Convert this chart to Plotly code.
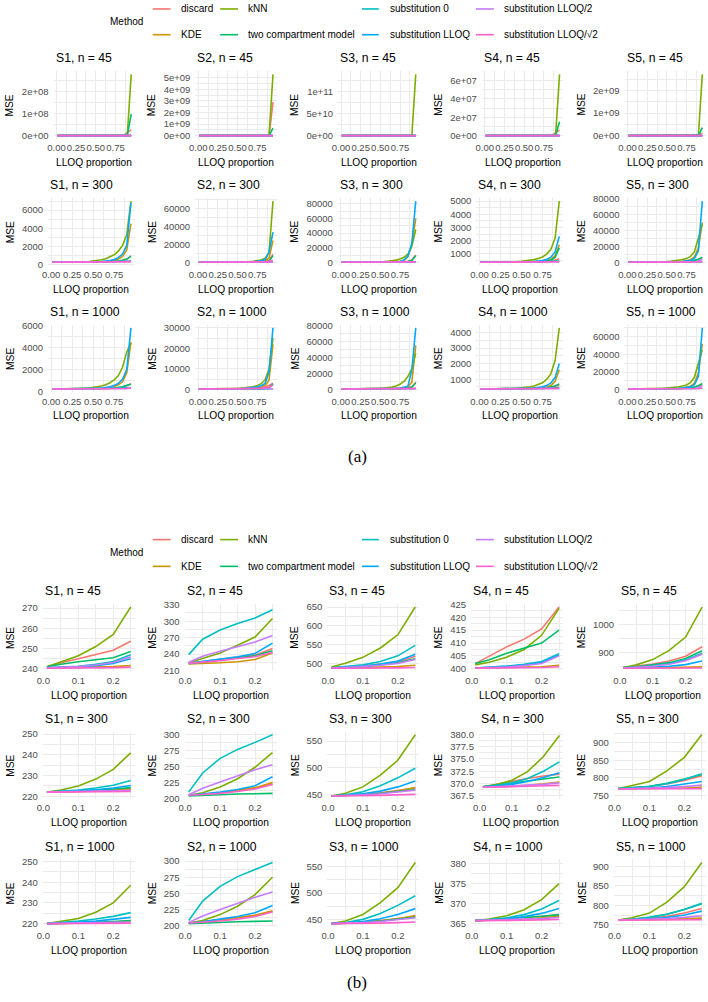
import plotly.graph_objects as go

W, H = 708, 1002
FONT = "Liberation Sans, Arial, Helvetica, sans-serif"

METHODS = ["discard", "KDE", "kNN", "two compartment model", "substitution 0",
           "substitution LLOQ", "substitution LLOQ/2", "substitution LLOQ/√2"]
COLORS = ["#F8766D", "#CD9600", "#7CAE00", "#00BE67", "#00BFC4",
          "#00A9FF", "#C77CFF", "#FF61CC"]
SCENARIOS = ["S1", "S2", "S3", "S4", "S5"]
SIZES = [45, 300, 1000]

# LLOQ proportions: panel (b) uses the first six, panel (a) all of them
X_B = [0.01, 0.05, 0.10, 0.15, 0.20, 0.25]
X_A_TAIL = [0.30, 0.35, 0.40, 0.45, 0.50, 0.55, 0.60, 0.65, 0.70, 0.75, 0.80, 0.85, 0.90, 0.95]
X_A = X_B + X_A_TAIL

X_TICKS_A = [0, 0.25, 0.5, 0.75]
X_TICKTEXT_A = ["0.00", "0.25", "0.50", "0.75"]
X_TICKS_B = [0, 0.1, 0.2]
X_TICKTEXT_B = ["0.0", "0.1", "0.2"]

# ---- MSE, LLOQ proportion 0.01 .. 0.25 (order of METHODS) ----
B_S1_N45 = [[241, 243, 245, 247, 249.2, 253.6], [240.4, 240.5, 240.6, 240.8, 241.1, 241.6],
            [241, 243.5, 246.5, 251, 257, 270.5], [241, 242.3, 243.5, 244.5, 245.5, 248.5],
            [240.5, 240.8, 241.3, 242.2, 243.6, 247], [240.5, 240.6, 241, 241.6, 242.6, 245],
            [240.5, 240.7, 241.1, 241.9, 243.1, 246], [240.3, 240.3, 240.4, 240.5, 240.6, 240.8]]
B_S2_N45 = [[223, 226, 230, 234, 238, 250], [222, 222.5, 224, 226, 230, 242],
            [224, 232, 242, 256, 271, 305], [223, 225, 229, 233, 237, 246],
            [239, 267, 284, 296, 306, 321], [223, 227, 231, 235, 241, 260],
            [225, 236, 245, 254, 262, 274], [223, 225, 228, 232, 235, 243]]
B_S3_N45 = [[488, 490, 493, 498, 504, 519], [487, 487.5, 488.5, 490, 491.5, 495],
            [490, 500, 516, 541, 576, 650], [488, 489, 492, 496, 502, 512],
            [488, 491, 496, 505, 520, 548], [487, 489, 492, 498, 506, 524],
            [487, 489, 491, 495, 500, 510], [487, 487, 487, 487.5, 488, 489]]
B_S4_N45 = [[402, 405, 408.5, 411.5, 415.5, 424], [400.3, 400.4, 400.5, 400.6, 400.8, 401.3],
            [401.5, 402.5, 404.5, 407.5, 413, 423.5], [402, 403.5, 406, 408, 410, 415],
            [400.3, 400.5, 401, 401.7, 402.8, 405.8], [400.3, 400.5, 400.9, 401.4, 402.4, 405.3],
            [400.3, 400.4, 400.7, 401.2, 402, 405], [400.2, 400.2, 400.3, 400.4, 400.5, 400.8]]
B_S5_N45 = [[845, 850, 858, 869, 886, 920], [843, 843, 844, 845, 846, 848],
            [845, 855, 874, 907, 955, 1063], [845, 848, 855, 863, 878, 906],
            [844, 847, 852, 860, 873, 897], [844, 845, 847, 850, 856, 869],
            [844, 846, 850, 857, 870, 893], [843, 843, 843, 843.5, 844, 844]]
B_S1_N300 = [[222, 222.1, 222.3, 222.5, 222.8, 223.2], [222, 222.1, 222.3, 222.6, 223, 223.7],
             [222, 223, 225, 228.3, 233, 241], [222, 222.2, 222.5, 223, 223.5, 224.2],
             [222, 222.3, 223, 224, 225.3, 227.6], [222, 222.2, 222.6, 223.2, 224, 225.2],
             [222, 222.1, 222.2, 222.4, 222.6, 222.9], [222, 222, 222, 222.1, 222.2, 222.3]]
B_S2_N300 = [[205, 206, 209, 212, 216, 223], [205, 206, 209, 213, 217, 225],
             [205, 209, 218, 231, 249, 272], [204, 205, 206, 207, 207.5, 208],
             [210, 240, 263, 277, 288, 300], [205, 207, 210, 214, 220, 234],
             [206, 216, 226, 236, 245, 253], [205, 206, 208, 211, 215, 222]]
B_S3_N300 = [[447, 448, 450, 453, 457, 462], [447, 447.5, 449, 452, 456, 463],
             [447, 452, 464, 486, 514, 562], [447, 448, 450, 452, 455, 459],
             [447, 449, 455, 466, 481, 499], [447, 448, 451, 456, 464, 475],
             [447, 447.5, 449, 451, 454, 458], [447, 447, 447.5, 448, 449, 450]]
B_S4_N300 = [[369.3, 369.8, 370.5, 371.0, 371.5, 371.9], [369.2, 369.3, 369.4, 369.6, 369.9, 370.3],
             [369.3, 369.7, 370.6, 372.4, 375.5, 379.8], [369.3, 369.6, 370.1, 370.5, 370.9, 371.3],
             [369.3, 369.5, 370.1, 371.0, 372.5, 374.4], [369.3, 369.4, 369.8, 370.4, 371.2, 372.2],
             [369.2, 369.3, 369.4, 369.6, 369.8, 370.1], [369.2, 369.2, 369.3, 369.4, 369.5, 369.6]]
B_S5_N300 = [[770, 772, 776, 783, 793, 806], [769, 769, 770, 771, 772, 774],
             [770, 778, 790, 820, 858, 922], [770, 772, 777, 785, 797, 810],
             [770, 772, 776, 784, 796, 812], [769, 770, 772, 776, 782, 790],
             [769, 770, 771, 773, 776, 780], [769, 769, 769, 769, 770, 770]]
B_S1_N1000 = [[220, 220.1, 220.2, 220.4, 220.6, 221], [220, 220.1, 220.2, 220.4, 220.7, 221.2],
              [220, 221, 222.5, 225.5, 230, 238.5], [220, 220.1, 220.3, 220.6, 221, 221.5],
              [220, 220.4, 221.2, 222.2, 223.5, 225.3], [220, 220.2, 220.6, 221.2, 222, 223],
              [220, 220.1, 220.2, 220.3, 220.5, 220.8], [220, 220, 220, 220.1, 220.1, 220.2]]
B_S2_N1000 = [[204, 206, 209, 212, 216, 222], [204, 206, 209, 212, 216, 223],
              [204, 208, 217, 230, 248, 275], [203, 204, 205, 206, 206.5, 207],
              [208, 238, 261, 276, 287, 298], [204, 206, 210, 214, 220, 231],
              [205, 215, 225, 235, 244, 252], [204, 205, 207, 210, 214, 221]]
B_S3_N1000 = [[443, 444, 446, 449, 452, 456], [443, 443.5, 445, 448, 452, 458],
              [443, 448, 460, 482, 510, 557], [443, 444, 446, 448, 451, 455],
              [443, 445, 451, 462, 477, 495], [443, 444, 447, 452, 460, 471],
              [443, 443.5, 445, 447, 450, 454], [443, 443, 443.5, 444, 445, 446]]
B_S4_N1000 = [[365.8, 366, 366.3, 366.6, 366.9, 367.2], [365.8, 365.9, 366, 366.2, 366.5, 366.9],
              [365.8, 366.2, 367, 368.5, 371, 375], [365.8, 366, 366.3, 366.6, 366.9, 367.3],
              [365.8, 366, 366.5, 367.3, 368.7, 370.8], [365.8, 365.9, 366.2, 366.8, 367.6, 368.8],
              [365.8, 365.9, 366, 366.1, 366.3, 366.6], [365.8, 365.8, 365.8, 365.9, 366, 366.1]]
B_S5_N1000 = [[762, 764, 767, 772, 780, 792], [762, 762, 763, 764, 765, 767],
              [762, 768, 780, 808, 848, 910], [762, 764, 769, 777, 789, 804],
              [762, 764, 769, 777, 789, 805], [762, 763, 765, 769, 775, 785],
              [762, 763, 764, 766, 769, 773], [762, 762, 762, 762, 763, 763]]

# ---- MSE, LLOQ proportion 0.30 .. 0.95 (continuation for panel a) ----
A_S1_N45 = [[258, 263, 270, 279, 292, 310, 336, 375, 440, 560, 850, 5e4, 1.5e7, 2.6e7],
            [243, 245, 248, 252, 258, 266, 278, 296, 325, 372, 455, 620, 1000, 2500],
            [290, 318, 356, 410, 485, 590, 745, 980, 1350, 2000, 3300, 6500, 2e5, 2.8e8],
            [252, 258, 265, 274, 286, 302, 325, 357, 405, 480, 610, 900, 5e4, 9.8e7],
            [253, 261, 271, 284, 300, 320, 345, 376, 414, 460, 515, 580, 650, 720],
            [250, 257, 267, 281, 301, 330, 372, 436, 535, 700, 990, 1560, 2900, 7500],
            [252, 259, 267, 277, 289, 303, 320, 340, 364, 392, 425, 462, 505, 560],
            [241, 242, 243, 245, 248, 252, 258, 266, 277, 292, 312, 338, 372, 420]]
A_S2_N45 = [[263, 278, 296, 318, 345, 380, 425, 490, 590, 760, 1100, 2500, 4e5, 2.9e9],
            [256, 275, 298, 328, 366, 416, 482, 572, 700, 890, 1200, 1800, 3500, 9000],
            [345, 395, 458, 540, 650, 800, 1010, 1320, 1800, 2700, 4500, 9500, 5e5, 5.3e9],
            [256, 268, 283, 302, 326, 358, 400, 460, 550, 700, 980, 1700, 3e4, 6.5e8],
            [334, 345, 355, 364, 372, 379, 385, 390, 394, 397, 399, 400, 401, 401],
            [280, 305, 338, 382, 440, 520, 630, 785, 1010, 1350, 1900, 2900, 5000, 12000],
            [287, 300, 313, 327, 342, 358, 375, 392, 410, 428, 447, 466, 485, 505],
            [252, 263, 276, 292, 312, 337, 368, 408, 460, 530, 625, 760, 960, 1300]]
A_S3_N45 = [[540, 575, 625, 690, 780, 900, 1070, 1320, 1700, 2350, 3600, 6800, 2e4, 8e4],
            [502, 515, 535, 565, 610, 680, 790, 960, 1230, 1700, 2600, 4500, 9500, 3e4],
            [760, 910, 1120, 1420, 1870, 2550, 3600, 5400, 8600, 15000, 3e4, 8e4, 4e5, 1.38e11],
            [528, 550, 580, 620, 675, 750, 855, 1000, 1220, 1560, 2150, 3300, 6200, 1.5e4],
            [585, 630, 680, 735, 795, 860, 930, 1005, 1085, 1170, 1260, 1355, 1455, 1560],
            [550, 585, 635, 705, 800, 935, 1130, 1410, 1830, 2500, 3600, 5700, 1e4, 2.2e4],
            [522, 537, 555, 577, 603, 635, 672, 716, 768, 830, 902, 987, 1086, 1200],
            [491, 494, 499, 506, 516, 530, 550, 578, 617, 670, 742, 840, 975, 1160]]
A_S4_N45 = [[436, 452, 473, 500, 535, 580, 640, 720, 830, 990, 1250, 1e5, 3e6, 6e6],
            [402, 403, 405, 408, 412, 418, 427, 440, 460, 490, 540, 630, 800, 1200],
            [440, 465, 500, 550, 620, 720, 870, 1100, 1480, 2150, 3500, 7000, 1e5, 6.67e7],
            [421, 428, 437, 448, 462, 480, 503, 533, 573, 628, 705, 820, 3e4, 1.5e7],
            [410, 416, 423, 431, 440, 450, 461, 473, 486, 500, 515, 531, 548, 566],
            [409, 414, 421, 430, 442, 458, 480, 510, 552, 612, 700, 840, 1070, 1500],
            [408, 412, 416, 421, 427, 433, 440, 448, 457, 467, 478, 490, 503, 517],
            [401, 401.5, 402, 403, 404.5, 406.5, 409, 413, 418, 425, 434, 446, 462, 483]]
A_S5_N45 = [[965, 1030, 1115, 1230, 1380, 1580, 1850, 2230, 2800, 3700, 5300, 9000, 3e7, 1e8],
            [851, 856, 863, 873, 887, 907, 935, 975, 1035, 1125, 1270, 1520, 2000, 3200],
            [1250, 1500, 1850, 2350, 3050, 4100, 5700, 8300, 12700, 21000, 4e4, 9.5e4, 1e6, 2.72e9],
            [945, 1000, 1075, 1175, 1310, 1490, 1740, 2090, 2600, 3400, 4800, 7600, 2e5, 3.5e8],
            [930, 970, 1015, 1065, 1120, 1180, 1245, 1315, 1390, 1470, 1555, 1645, 1740, 1840],
            [890, 920, 960, 1015, 1090, 1195, 1340, 1550, 1850, 2300, 3000, 4200, 6500, 12000],
            [922, 955, 992, 1033, 1078, 1127, 1180, 1237, 1298, 1363, 1432, 1505, 1582, 1663],
            [845, 847, 850, 854, 860, 868, 879, 894, 914, 941, 977, 1025, 1090, 1180]]
A_S1_N300 = [[224, 226, 228, 231, 235, 240, 248, 259, 276, 300, 340, 410, 560, 950],
             [225, 228, 233, 240, 250, 265, 287, 320, 372, 455, 600, 880, 1600, 4500],
             [252, 268, 290, 320, 362, 420, 505, 625, 800, 1060, 1450, 2100, 3300, 7000],
             [225, 227, 230, 234, 239, 246, 256, 270, 290, 320, 365, 440, 580, 880],
             [231, 236, 242, 249, 257, 266, 276, 287, 299, 312, 326, 341, 357, 374],
             [228, 232, 238, 247, 260, 280, 310, 355, 425, 540, 740, 1130, 2100, 6800],
             [223.5, 224.3, 225.3, 226.5, 228, 230, 232.5, 236, 241, 248, 258, 272, 292, 320],
             [222.5, 222.7, 223, 223.5, 224.2, 225, 226.5, 228.5, 231.5, 236, 243, 254, 272, 300]]
A_S2_N300 = [[230, 240, 253, 270, 292, 322, 362, 418, 500, 625, 830, 1200, 2400, 9000],
             [235, 248, 265, 288, 318, 360, 420, 505, 635, 840, 1200, 2000, 5000, 24400],
             [302, 340, 390, 455, 540, 655, 810, 1030, 1360, 1880, 2800, 4700, 11000, 68000],
             [208.5, 209, 209.5, 210, 211, 212, 214, 217, 222, 230, 245, 290, 800, 7800],
             [310, 318, 325, 331, 336, 340, 344, 347, 350, 352, 354, 355, 356, 357],
             [252, 275, 305, 345, 398, 470, 570, 715, 930, 1270, 1850, 3000, 11600, 33500],
             [262, 270, 278, 286, 294, 302, 310, 318, 326, 334, 342, 350, 358, 366],
             [230, 240, 252, 268, 288, 313, 346, 390, 450, 535, 660, 860, 1250, 2200]]
A_S3_N300 = [[470, 482, 498, 520, 550, 590, 645, 725, 840, 1020, 1320, 1900, 3500, 10500],
             [472, 487, 507, 535, 575, 630, 710, 830, 1010, 1350, 3000, 8000, 24000, 60000],
             [600, 680, 790, 940, 1150, 1450, 1880, 2500, 3400, 4800, 7200, 11500, 22000, 45000],
             [465, 474, 486, 502, 524, 555, 598, 660, 750, 890, 1120, 1550, 3000, 9500],
             [520, 545, 572, 602, 635, 670, 708, 748, 790, 835, 882, 931, 982, 1035],
             [490, 510, 538, 576, 630, 705, 815, 975, 1220, 1650, 3500, 9000, 26000, 83500],
             [463, 469, 476, 484, 494, 506, 521, 539, 561, 588, 621, 661, 710, 770],
             [452, 455, 459, 465, 473, 484, 500, 522, 553, 598, 665, 765, 930, 1250]]
A_S4_N300 = [[372.5, 373.5, 375, 377, 380, 384, 390, 398, 410, 427, 452, 488, 545, 640],
             [371, 372, 373.5, 375.5, 378.5, 383, 390, 400, 417, 445, 495, 600, 870, 1700],
             [386, 395, 407, 423, 445, 475, 515, 572, 650, 775, 990, 1350, 2200, 5000],
             [371.8, 372.5, 373.5, 375, 377, 380, 384, 391, 402, 420, 455, 530, 730, 1460],
             [377, 381, 385.5, 390.5, 396, 402, 408.5, 415.5, 423, 431, 439.5, 448.5, 458, 468],
             [373.5, 375.5, 378.5, 383, 389, 398, 411, 430, 460, 507, 590, 760, 1150, 2330],
             [370.5, 371, 371.6, 372.4, 373.4, 374.7, 376.3, 378.3, 380.8, 384, 388, 393, 399, 407],
             [369.8, 370, 370.3, 370.7, 371.3, 372.1, 373.2, 374.7, 376.8, 379.8, 384, 390, 400, 415]]
A_S5_N300 = [[830, 860, 900, 950, 1015, 1100, 1210, 1360, 1570, 1870, 2330, 3050, 4200, 6000],
             [785, 805, 835, 880, 945, 1040, 1190, 1430, 1830, 2550, 4000, 7600, 18500, 50000],
             [1010, 1130, 1290, 1500, 1780, 2150, 2650, 3300, 4200, 5400, 8000, 14000, 30000, 48000],
             [832, 865, 908, 962, 1032, 1122, 1240, 1400, 1620, 1930, 2400, 3150, 4500, 7000],
             [835, 865, 900, 940, 985, 1035, 1090, 1150, 1215, 1285, 1360, 1440, 1525, 1615],
             [805, 830, 865, 915, 985, 1085, 1230, 1450, 1790, 2350, 3350, 5600, 15000, 76700],
             [786, 794, 804, 816, 831, 850, 875, 910, 960, 1040, 1170, 1400, 1900, 5000],
             [772, 775, 779, 785, 793, 804, 820, 842, 874, 920, 990, 1100, 1300, 1700]]
A_S1_N1000 = [[222, 224, 226, 229, 233, 238, 246, 257, 273, 297, 335, 400, 520, 700],
              [223, 226, 230, 237, 247, 262, 284, 318, 370, 455, 600, 880, 1700, 4500],
              [249, 264, 285, 314, 355, 412, 495, 615, 790, 1050, 1450, 2200, 3600, 4400],
              [223, 225, 228, 232, 237, 244, 254, 268, 288, 318, 362, 435, 560, 650],
              [228, 232, 237, 243, 250, 258, 267, 277, 288, 300, 313, 327, 342, 358],
              [226, 230, 236, 245, 258, 278, 308, 353, 423, 535, 730, 1110, 2000, 5800],
              [221.3, 221.9, 222.7, 223.7, 225, 226.7, 229, 232, 236.5, 243, 252, 266, 285, 310],
              [220.4, 220.6, 220.9, 221.4, 222.1, 223, 224.5, 226.5, 229.5, 234, 241, 252, 270, 300]]
A_S2_N1000 = [[228, 237, 249, 265, 286, 315, 355, 410, 490, 610, 800, 1150, 1900, 3000],
              [233, 246, 263, 285, 315, 357, 415, 500, 625, 830, 1180, 1900, 4500, 22000],
              [299, 335, 383, 447, 530, 645, 800, 1020, 1350, 1870, 2800, 4700, 10000, 25000],
              [207.5, 208, 208.5, 209, 210, 211, 213, 216, 221, 229, 244, 285, 700, 2700],
              [308, 316, 323, 329, 334, 338, 342, 345, 348, 350, 352, 353, 354, 355],
              [250, 272, 302, 342, 395, 467, 567, 712, 925, 1260, 1830, 2950, 8500, 30000],
              [260, 268, 276, 284, 292, 300, 308, 316, 324, 332, 340, 348, 356, 364],
              [228, 237, 249, 264, 284, 309, 342, 386, 446, 530, 655, 850, 1200, 2000]]
A_S3_N1000 = [[462, 474, 490, 512, 542, 582, 637, 717, 832, 1010, 1310, 1890, 3400, 9000],
              [466, 481, 501, 529, 569, 624, 704, 824, 1004, 1294, 1820, 2980, 9000, 55000],
              [615, 700, 820, 990, 1230, 1590, 2120, 2940, 4240, 6400, 10000, 16000, 26000, 45000],
              [460, 469, 481, 497, 519, 550, 593, 655, 745, 885, 1110, 1540, 2900, 8000],
              [514, 539, 566, 596, 629, 664, 702, 742, 784, 829, 876, 925, 976, 1029],
              [485, 505, 533, 571, 625, 700, 810, 970, 1215, 1615, 2340, 3980, 24000, 77000],
              [459, 465, 472, 480, 490, 502, 517, 535, 557, 584, 617, 657, 706, 766],
              [447, 450, 454, 460, 468, 479, 495, 517, 548, 593, 660, 760, 925, 1245]]
A_S4_N1000 = [[367.8, 368.6, 369.8, 371.5, 374, 377.5, 382.5, 390, 401, 418, 443, 480, 535, 620],
              [367.5, 368.5, 370, 372, 375, 379.5, 386, 396, 412, 440, 490, 595, 860, 1600],
              [381, 389, 400, 415, 436, 465, 504, 560, 640, 765, 980, 1350, 2200, 4300],
              [368, 368.8, 369.9, 371.3, 373.2, 376, 380, 386, 395, 410, 435, 480, 560, 700],
              [373.5, 377, 381, 385.5, 390.5, 396, 402, 408.5, 415.5, 423, 431, 439.5, 448.5, 458],
              [370.5, 372.5, 375.5, 380, 386, 395, 408, 427, 457, 504, 587, 757, 1100, 2000],
              [367, 367.5, 368.1, 368.9, 369.9, 371.2, 372.8, 374.8, 377.3, 380.5, 384.5, 389.5, 395.5, 403],
              [366.3, 366.5, 366.8, 367.2, 367.8, 368.6, 369.7, 371.2, 373.3, 376.3, 380.5, 386.5, 396.5, 411]]
A_S5_N1000 = [[815, 845, 885, 935, 1000, 1085, 1195, 1345, 1555, 1855, 2315, 3035, 4200, 6000],
              [775, 795, 825, 870, 935, 1030, 1180, 1420, 1820, 2540, 3990, 7590, 18500, 52000],
              [990, 1110, 1270, 1480, 1760, 2130, 2630, 3280, 4180, 5400, 8000, 14000, 30000, 45000],
              [822, 855, 898, 952, 1022, 1112, 1230, 1390, 1610, 1920, 2390, 3140, 4500, 7000],
              [826, 856, 891, 931, 976, 1026, 1081, 1141, 1206, 1276, 1351, 1431, 1516, 1606],
              [797, 822, 857, 907, 977, 1077, 1222, 1442, 1782, 2342, 3342, 5600, 15000, 70000],
              [776, 784, 794, 806, 821, 840, 865, 900, 950, 1030, 1160, 1390, 1890, 4800],
              [764, 767, 771, 777, 785, 796, 812, 834, 866, 912, 982, 1092, 1292, 1692]]

B_DATA = {("S1", 45): B_S1_N45, ("S2", 45): B_S2_N45, ("S3", 45): B_S3_N45, ("S4", 45): B_S4_N45, ("S5", 45): B_S5_N45,
          ("S1", 300): B_S1_N300, ("S2", 300): B_S2_N300, ("S3", 300): B_S3_N300, ("S4", 300): B_S4_N300, ("S5", 300): B_S5_N300,
          ("S1", 1000): B_S1_N1000, ("S2", 1000): B_S2_N1000, ("S3", 1000): B_S3_N1000, ("S4", 1000): B_S4_N1000, ("S5", 1000): B_S5_N1000}
A_TAIL = {("S1", 45): A_S1_N45, ("S2", 45): A_S2_N45, ("S3", 45): A_S3_N45, ("S4", 45): A_S4_N45, ("S5", 45): A_S5_N45,
          ("S1", 300): A_S1_N300, ("S2", 300): A_S2_N300, ("S3", 300): A_S3_N300, ("S4", 300): A_S4_N300, ("S5", 300): A_S5_N300,
          ("S1", 1000): A_S1_N1000, ("S2", 1000): A_S2_N1000, ("S3", 1000): A_S3_N1000, ("S4", 1000): A_S4_N1000, ("S5", 1000): A_S5_N1000}

# y tick values / labels
Y_TICKS_A = {
    ("S1", 45): ([0, 1e8, 2e8], ["0e+00", "1e+08", "2e+08"]),
    ("S2", 45): ([0, 1e9, 2e9, 3e9, 4e9, 5e9], ["0e+00", "1e+09", "2e+09", "3e+09", "4e+09", "5e+09"]),
    ("S3", 45): ([0, 5e10, 1e11], ["0e+00", "5e+10", "1e+11"]),
    ("S4", 45): ([0, 2e7, 4e7, 6e7], ["0e+00", "2e+07", "4e+07", "6e+07"]),
    ("S5", 45): ([0, 1e9, 2e9], ["0e+00", "1e+09", "2e+09"]),
    ("S1", 300): ([0, 2000, 4000, 6000], None),
    ("S2", 300): ([0, 20000, 40000, 60000], None),
    ("S3", 300): ([0, 20000, 40000, 60000, 80000], None),
    ("S4", 300): ([1000, 2000, 3000, 4000, 5000], None),
    ("S5", 300): ([0, 20000, 40000, 60000, 80000], None),
    ("S1", 1000): ([0, 2000, 4000, 6000], None),
    ("S2", 1000): ([0, 10000, 20000, 30000], None),
    ("S3", 1000): ([0, 20000, 40000, 60000, 80000], None),
    ("S4", 1000): ([1000, 2000, 3000, 4000], None),
    ("S5", 1000): ([0, 20000, 40000, 60000], None),
}
Y_TICKS_B = {
    ("S1", 45): ([240, 250, 260, 270], None),
    ("S2", 45): ([210, 240, 270, 300, 330], None),
    ("S3", 45): ([500, 550, 600, 650], None),
    ("S4", 45): ([400, 405, 410, 415, 420, 425], None),
    ("S5", 45): ([900, 1000], None),
    ("S1", 300): ([220, 230, 240, 250], None),
    ("S2", 300): ([200, 225, 250, 275, 300], None),
    ("S3", 300): ([450, 500, 550], None),
    ("S4", 300): ([367.5, 370, 372.5, 375, 377.5, 380], ["367.5", "370.0", "372.5", "375.0", "377.5", "380.0"]),
    ("S5", 300): ([750, 800, 850, 900], None),
    ("S1", 1000): ([220, 230, 240, 250], None),
    ("S2", 1000): ([200, 225, 250, 275, 300], None),
    ("S3", 1000): ([450, 500, 550], None),
    ("S4", 1000): ([365, 370, 375, 380], None),
    ("S5", 1000): ([750, 800, 850, 900], None),
}
Y_RANGE_B = {("S2", 45): [208.5, 331.5], ("S1", 300): [218.7, 251.2], ("S4", 300): [366.8, 380.6],
             ("S5", 300): [741, 930], ("S1", 1000): [218.5, 251], ("S4", 1000): [364.3, 381],
             ("S5", 1000): [745, 918]}

# ---------------- layout geometry (pixels) ----------------
RIGHTS = [130, 273, 417, 562, 706]
CELL_W = 134
ROW_TITLES = {"a": [54, 182, 310], "b": [592, 721, 850]}
LEGEND_ROWS = {"a": (4, 30, 17), "b": (540, 567, 553.5)}
LEG_LINE_X = [(148, 166), (216, 234), (359, 376), (474, 492)]
LEG_TEXT_X = [174, 242, 385, 500]
METHOD_X = 103
CAPTIONS = {"a": 456, "b": 987}
CHAR_W = {".": 2.7, "e": 5.3, "+": 5.6}


def label_w(s):
    return sum(CHAR_W.get(ch, 5.35) for ch in s)


def px_x(v):
    return v / W


def px_y(v):
    return 1 - v / H


TICKFONT = dict(size=9.5, color="#4D4D4D", family=FONT)
GRID = "#EBEBEB"

fig = go.Figure()
layout = {}
ann = []
shapes = []
k = 0
for block in ["a", "b"]:
    for r, n in enumerate(SIZES):
        ty = ROW_TITLES[block][r]
        top, bottom = ty + 13, ty + 81
        for c, s in enumerate(SCENARIOS):
            k += 1
            right = RIGHTS[c]
            cell_left = right - CELL_W
            if block == "a":
                xs = X_A
                series = [b + t for b, t in zip(B_DATA[(s, n)], A_TAIL[(s, n)])]
                tv, tt = Y_TICKS_A[(s, n)]
                xtv, xtt = X_TICKS_A, X_TICKTEXT_A
                xr = [0.01 - 0.047, 0.95 + 0.047]
                xminor = [0.125, 0.375, 0.625, 0.875]
                yr = None
            else:
                xs = X_B
                series = B_DATA[(s, n)]
                tv, tt = Y_TICKS_B[(s, n)]
                xtv, xtt = X_TICKS_B, X_TICKTEXT_B
                xr = [0.01 - 0.012, 0.25 + 0.012]
                xminor = [0.05, 0.15, 0.25]
                yr = Y_RANGE_B.get((s, n))
            if tt is None:
                tt = [f"{v:g}" for v in tv]
            allv = [v for ser in series for v in ser]
            if yr is None:
                lo, hi = min(allv), max(allv)
                sp = hi - lo
                yr = [lo - 0.05 * sp, hi + 0.05 * sp]
            d = tv[1] - tv[0]
            yminor = [tv[0] - d / 2] + [t + d / 2 for t in tv]
            left = cell_left + 25 + max(label_w(t) for t in tt)

            xa = "xaxis" if k == 1 else f"xaxis{k}"
            ya = "yaxis" if k == 1 else f"yaxis{k}"
            xref = "x" if k == 1 else f"x{k}"
            yref = "y" if k == 1 else f"y{k}"
            layout[xa] = dict(domain=[px_x(left), px_x(right)], anchor=yref, range=xr,
                              tickmode="array", tickvals=xtv, ticktext=xtt, tickangle=0,
                              showgrid=True, gridcolor=GRID, gridwidth=1, zeroline=False,
                              showline=False, ticks="", ticklen=0, ticklabelstandoff=2,
                              tickfont=TICKFONT, fixedrange=True,
                              minor=dict(tickmode="array", tickvals=xminor, showgrid=True,
                                         gridcolor=GRID, gridwidth=0.6, ticks=""))
            layout[ya] = dict(domain=[px_y(bottom), px_y(top)], anchor=xref, range=yr,
                              tickmode="array", tickvals=tv, ticktext=tt,
                              showgrid=True, gridcolor=GRID, gridwidth=1, zeroline=False,
                              showline=False, ticks="", ticklen=0, ticklabelstandoff=4,
                              tickfont=TICKFONT, fixedrange=True,
                              minor=dict(tickmode="array", tickvals=yminor, showgrid=True,
                                         gridcolor=GRID, gridwidth=0.6, ticks=""))
            for m, (name, col) in enumerate(zip(METHODS, COLORS)):
                fig.add_trace(go.Scatter(x=xs, y=series[m], mode="lines", name=name,
                                         line=dict(color=col, width=1.6),
                                         xaxis=xref, yaxis=yref, showlegend=False,
                                         hoverinfo="skip"))
            ann.append(dict(text=f"{s}, n = {n}", x=px_x(left), y=px_y(ty), xref="paper",
                            yref="paper", xanchor="left", yanchor="middle", showarrow=False,
                            font=dict(size=12.2, color="black", family=FONT)))
            ann.append(dict(text="MSE", x=px_x(cell_left + 8.5), y=px_y((top + bottom) / 2),
                            xref="paper", yref="paper", xanchor="center", yanchor="middle",
                            textangle=-90, showarrow=False,
                            font=dict(size=10.2, color="black", family=FONT)))
            ann.append(dict(text="LLOQ proportion", x=px_x((left + right) / 2), y=px_y(ty + 105),
                            xref="paper", yref="paper", xanchor="center", yanchor="middle",
                            showarrow=False, font=dict(size=10.2, color="black", family=FONT)))

    # legend for the block
    y1, y2, ym = LEGEND_ROWS[block]
    ann.append(dict(text="Method", x=px_x(METHOD_X), y=px_y(ym), xref="paper", yref="paper",
                    xanchor="left", yanchor="middle", showarrow=False,
                    font=dict(size=10, color="black", family=FONT)))
    for m, (name, col) in enumerate(zip(METHODS, COLORS)):
        cidx, ridx = m // 2, m % 2
        yy = y1 if ridx == 0 else y2
        x0, x1 = LEG_LINE_X[cidx]
        shapes.append(dict(type="line", xref="paper", yref="paper", x0=px_x(x0), x1=px_x(x1),
                           y0=px_y(yy), y1=px_y(yy), line=dict(color=col, width=1.6)))
        ann.append(dict(text=name, x=px_x(LEG_TEXT_X[cidx]), y=px_y(yy), xref="paper",
                        yref="paper", xanchor="left", yanchor="middle", showarrow=False,
                        font=dict(size=10, color="black", family=FONT)))
    ann.append(dict(text=f"({block})", x=0.5, y=px_y(CAPTIONS[block]), xref="paper",
                    yref="paper", xanchor="center", yanchor="middle", showarrow=False,
                    font=dict(size=17, color="black", family="Liberation Serif, DejaVu Serif, serif")))

fig.update_layout(width=W, height=H, autosize=False, margin=dict(l=0, r=0, t=0, b=0, pad=0),
                  paper_bgcolor="white", plot_bgcolor="white", showlegend=False,
                  annotations=ann, shapes=shapes, **layout)
fig.write_html("out.html")
